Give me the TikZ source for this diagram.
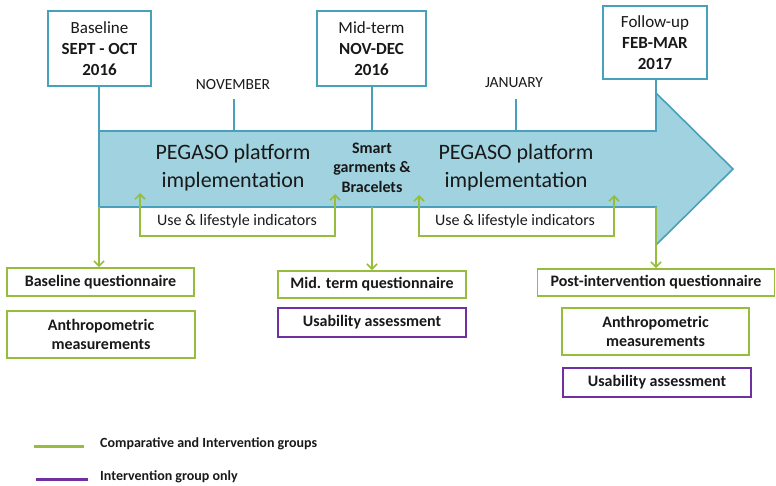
\documentclass[tikz,border=0pt]{standalone}
\usepackage{fontspec}
\setmainfont{Carlito}
\usetikzlibrary{arrows.meta}
\definecolor{arrfill}{RGB}{160,210,224}
\definecolor{tealc}{RGB}{72,160,186}
\definecolor{greenc}{RGB}{150,190,60}
\definecolor{purplec}{RGB}{112,48,160}
\definecolor{txt}{RGB}{25,25,25}
\tikzset{
  topbox/.style={draw=tealc, line width=1.8pt, fill=white, align=center, text=txt, inner sep=0pt,
    font=\fontsize{17}{21}\selectfont},
  gbox/.style={draw=greenc, line width=1.8pt, fill=white, align=center, text=txt, inner sep=0pt,
    font=\fontsize{16}{19}\selectfont\bfseries},
  pbox/.style={gbox, draw=purplec},
  tline/.style={draw=tealc, line width=1.6pt},
  gline/.style={draw=greenc, line width=1.6pt},
  garr/.style={gline, -{Straight Barb[length=5pt,width=10pt,line width=1.6pt]}},
  garr2/.style={gline, {Straight Barb[length=5pt,width=10pt,line width=1.6pt]}-{Straight Barb[length=5pt,width=10pt,line width=1.6pt]}},
  month/.style={text=txt, font=\fontsize{15.5}{18}\selectfont, inner sep=0pt},
  big/.style={text=txt, align=center, font=\fontsize{22}{28}\selectfont, inner sep=0pt},
  small/.style={text=txt, align=center, font=\fontsize{16}{19}\selectfont, inner sep=0pt},
  leg/.style={text=txt, anchor=west, font=\fontsize{14}{16}\selectfont\bfseries, inner sep=0pt}
}
\begin{document}
\begin{tikzpicture}[x=1pt,y=-1pt]
\useasboundingbox (0,0) rectangle (776,486);
% big arrow
\draw[fill=arrfill, draw=tealc, line width=1.6pt, line join=miter]
  (99,131) -- (656,131) -- (656,93) -- (733,169) -- (656,245) -- (656,207) -- (99,207) -- cycle;
% top boxes
\node[topbox, minimum width=103pt, minimum height=75pt] (bl) at (99.5,48.5)
  {Baseline\\\textbf{SEPT - OCT}\\\textbf{2016}};
\node[topbox, minimum width=109pt, minimum height=75pt] (mt) at (371.5,48.5)
  {Mid-term\\\textbf{NOV-DEC}\\\textbf{2016}};
\node[topbox, minimum width=104pt, minimum height=73pt] (fu) at (655,42.5)
  {Follow-up\\\textbf{FEB-MAR}\\\textbf{2017}};
% connectors from boxes to arrow
\coordinate (blj) at (99,131);
\coordinate (mtj) at (372,131);
\coordinate (fuj) at (656,93);
\draw[tline] (bl.south -| blj) -- (blj);
\draw[tline] (mt.south -| mtj) -- (mtj);
\draw[tline] (fu.south -| fuj) -- (fuj);
% months
\node[month] (nov) at (233,85) {NOVEMBER};
\node[month] (jan) at (514,83) {JANUARY};
\coordinate (novt) at (234,99);
\coordinate (novb) at (234,131);
\coordinate (jant) at (516,99);
\coordinate (janb) at (516,131);
\draw[tline] (novt) -- (novb);
\draw[tline] (jant) -- (janb);
% arrow texts
\node[big] (peg1) at (233,168) {PEGASO platform\\implementation};
\node[big] (peg2) at (516,168) {PEGASO platform\\implementation};
\node[small, font=\fontsize{16}{19.5}\selectfont\bfseries] (smart) at (372,167.5) {Smart\\garments \&\\Bracelets};
% bottom boxes
\node[gbox, minimum width=187pt, minimum height=28pt] (bq) at (100.5,282) {Baseline questionnaire};
\node[gbox, minimum width=188pt, minimum height=47pt] (am1) at (101,334.5) {Anthropometric\\measurements};
\node[gbox, minimum width=188pt, minimum height=27pt] (mq) at (372,284.5) {Mid. term questionnaire};
\node[pbox, minimum width=188pt, minimum height=29pt] (us1) at (372,322.5) {Usability assessment};
\node[gbox, minimum width=237pt, minimum height=27pt] (pq) at (656,282.5) {Post-intervention questionnaire};
\node[gbox, minimum width=187pt, minimum height=47pt] (am2) at (655.5,331.5) {Anthropometric\\measurements};
\node[pbox, minimum width=188pt, minimum height=29pt] (us2) at (657,382.5) {Usability assessment};
% green arrows down
\coordinate (ga1) at (99,207);
\coordinate (ga2) at (372,207);
\coordinate (ga3) at (656,207);
\draw[garr] (ga1) -- (ga1 |- bq.north);
\draw[garr] (ga2) -- (ga2 |- mq.north);
\draw[garr] (ga3) -- (ga3 |- pq.north);
% use & lifestyle brackets
\node[small] (ul1) at (237,221) {Use \& lifestyle indicators};
\node[small] (ul2) at (515,221) {Use \& lifestyle indicators};
\coordinate (u1a) at (140,193);
\coordinate (u1b) at (335,194);
\coordinate (u2a) at (419,195);
\coordinate (u2b) at (614,195);
\coordinate (ybot) at (0,236);
\draw[garr2] (u1a) -- (u1a |- ybot) -- (u1b |- ybot) -- (u1b);
\draw[garr2] (u2a) -- (u2a |- ybot) -- (u2b |- ybot) -- (u2b);
% legend
\coordinate (lg1a) at (34,446);
\coordinate (lg1b) at (84,446);
\coordinate (lg2a) at (36,479);
\coordinate (lg2b) at (88,479);
\draw[draw=greenc, line width=3pt] (lg1a) -- (lg1b);
\draw[draw=purplec, line width=3pt] (lg2a) -- (lg2b);
\node[leg] (lt1) at (100,444) {Comparative and Intervention groups};
\node[leg] (lt2) at (100,477) {Intervention group only};
\end{tikzpicture}
\end{document}
